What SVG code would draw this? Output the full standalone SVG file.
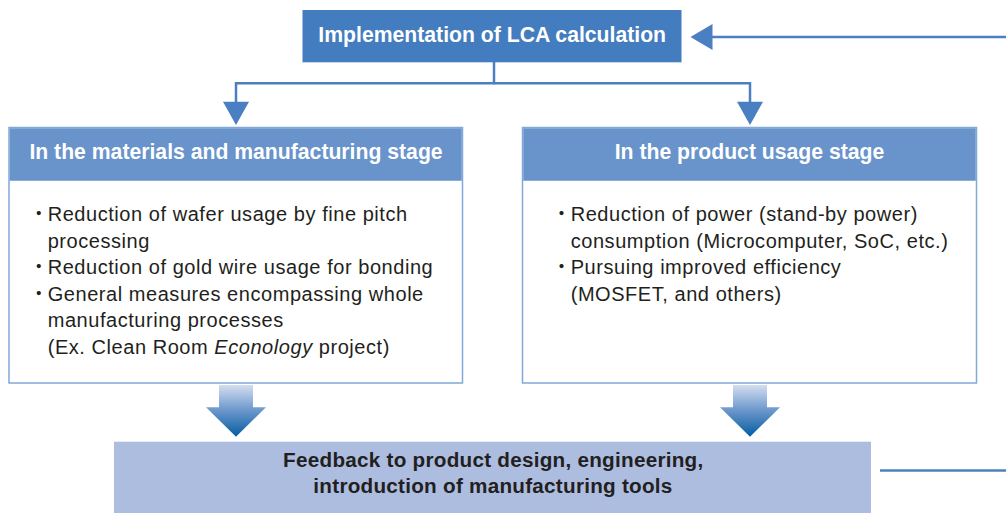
<svg xmlns="http://www.w3.org/2000/svg" width="1006" height="513" viewBox="0 0 1006 513">
<style>
.hdr{font-family:"Liberation Sans",Arial,sans-serif;font-weight:bold;font-size:21.2px;fill:#fff;text-anchor:middle}
.body{font-family:"Liberation Sans",Arial,sans-serif;font-size:20px;letter-spacing:0.55px;fill:#231f20}
.bul{font-family:"Noto Sans CJK JP",sans-serif;font-size:19.5px;fill:#231f20;text-anchor:middle}
.fb{font-family:"Liberation Sans",Arial,sans-serif;font-weight:bold;font-size:20.7px;letter-spacing:0.25px;fill:#231f20;text-anchor:middle}
.conn{fill:none;stroke:#4a7fc1;stroke-width:2.5}
.head{fill:#4a7fc1}
.box{fill:#fff;stroke:#82a8d9;stroke-width:1.5}
.band{fill:#6893cb}
</style>
<defs>
<linearGradient id="bg" x1="0" y1="0" x2="0" y2="1">
<stop offset="0" stop-color="#d3def1"/>
<stop offset="0.5" stop-color="#6a95cb"/>
<stop offset="1" stop-color="#035ea1"/>
</linearGradient>
</defs>

<g id="connectors">
<path class="conn" d="M1006,37 L712,37"/>
<path class="head" d="M690.5,37 L712.5,24 L712.5,50 Z"/>
<path class="conn" d="M494,62 L494,83.3 L236,83.3 L236,102"/>
<path class="head" d="M223,101.7 L249,101.7 L236,125 Z"/>
<path class="conn" d="M494,83.3 L750,83.3 L750,102"/>
<path class="head" d="M737,101.7 L763,101.7 L750,125 Z"/>
<path class="conn" d="M880,470.5 L1006,470.5"/>
<path d="M219,385 L253,385 L253,407.3 L266,407.3 L236,436.7 L206,407.3 L219,407.3 Z" fill="url(#bg)"/>
<path d="M733,385 L767,385 L767,407.3 L780,407.3 L750,436.7 L720,407.3 L733,407.3 Z" fill="url(#bg)"/>
</g>

<g id="lca">
<rect x="302.5" y="10" width="379" height="52.3" fill="#437dc0"/>
<text class="hdr" x="492.2" y="41.7">Implementation of LCA calculation</text>
</g>

<g id="materials">
<rect class="box" x="9" y="127.5" width="453.5" height="255.5"/>
<rect class="band" x="9.75" y="128.25" width="452" height="52.5"/>
<text class="hdr" x="236" y="159.3">In the materials and manufacturing stage</text>
<text class="bul" x="38.7" y="221">・</text>
<text class="body" x="47.7" y="221">Reduction of wafer usage by fine pitch</text>
<text class="body" x="47.7" y="247.5">processing</text>
<text class="bul" x="38.7" y="274">・</text>
<text class="body" x="47.7" y="274">Reduction of gold wire usage for bonding</text>
<text class="bul" x="38.7" y="300.5">・</text>
<text class="body" x="47.7" y="300.5">General measures encompassing whole</text>
<text class="body" x="47.7" y="327">manufacturing processes</text>
<text class="body" x="47.7" y="353.5">(Ex. Clean Room <tspan font-style="italic">Econology</tspan> project)</text>
</g>

<g id="usage">
<rect class="box" x="522.5" y="127.5" width="454" height="255.5"/>
<rect class="band" x="523.25" y="128.25" width="452.5" height="52.5"/>
<text class="hdr" x="749.5" y="159.3">In the product usage stage</text>
<text class="bul" x="561.5" y="221">・</text>
<text class="body" x="570.7" y="221">Reduction of power (stand-by power)</text>
<text class="body" x="570.7" y="247.5">consumption (Microcomputer, SoC, etc.)</text>
<text class="bul" x="561.5" y="274">・</text>
<text class="body" x="570.7" y="274">Pursuing improved efficiency</text>
<text class="body" x="570.7" y="300.5">(MOSFET, and others)</text>
</g>

<g id="feedback">
<rect x="114" y="441.7" width="757" height="71.3" fill="#adbde0"/>
<text class="fb" x="493.3" y="466.7">Feedback to product design, engineering,</text>
<text class="fb" x="493" y="492.7">introduction of manufacturing tools</text>
</g>
</svg>
